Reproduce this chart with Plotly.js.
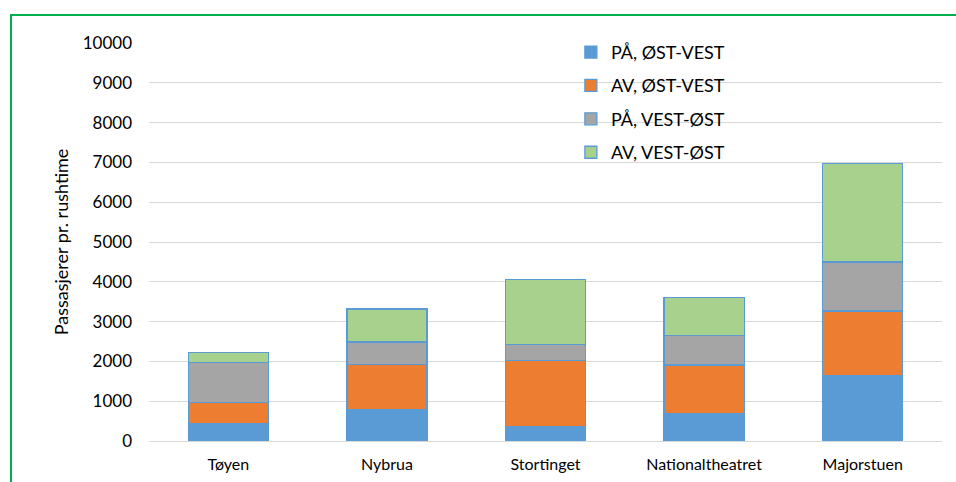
<!DOCTYPE html>
<html>
<head>
<meta charset="utf-8">
<script src="https://cdn.plot.ly/plotly-3.0.1.min.js"></script>
<style>
html,body{margin:0;padding:0;background:#fff;}
#chart{width:956px;height:482px;}
#frame{position:absolute;left:10px;top:14px;width:960px;height:500px;border-left:2px solid #00b050;border-top:2px solid #00b050;pointer-events:none;box-sizing:border-box;}
</style>
</head>
<body>
<div id="chart"></div>
<div id="frame"></div>
<script>
const categories = ["Tøyen", "Nybrua", "Stortinget", "Nationaltheatret", "Majorstuen"];
const seriesNames = ["PÅ, ØST-VEST", "AV, ØST-VEST", "PÅ, VEST-ØST", "AV, VEST-ØST"];
const paOstVest = [430, 780, 360, 680, 1640];
const avOstVest = [540, 1150, 1660, 1230, 1630];
const paVestOst = [1010, 560, 400, 740, 1230];
const avVestOst = [240, 830, 1630, 950, 2480];
const yTicks = [0, 1000, 2000, 3000, 4000, 5000, 6000, 7000, 8000, 9000, 10000];

const colors = ["#5B9BD5", "#ED7D31", "#A5A5A5", "#A9D18E"];
const values = [paOstVest, avOstVest, paVestOst, avVestOst];

const font = "Lato, sans-serif";

const traces = values.map((v, i) => ({
  type: "bar",
  x: categories,
  y: v,
  name: seriesNames[i],
  legendgroup: "g" + i,
  marker: {color: colors[i], line: {color: "#5B9BD5", width: 1.3}},
  hoverinfo: "x+y+name"
}));

const layout = {
  width: 956,
  height: 482,
  margin: {l: 149, r: 14, t: 43, b: 41},
  barmode: "stack",
  bargap: 0.495,
  paper_bgcolor: "#fff",
  plot_bgcolor: "#fff",
  font: {family: font, size: 17, color: "#000"},
  showlegend: true,
  legend: {
    x: 0.532, y: 1.023, xanchor: "left", yanchor: "top",
    traceorder: "grouped",
    tracegroupgap: 7,
    font: {family: font, size: 18, color: "#000"},
    bgcolor: "rgba(0,0,0,0)",
    itemwidth: 30
  },
  xaxis: {
    type: "category",
    tickfont: {family: font, size: 16, color: "#000"},
    showline: false,
    ticks: "",
    ticklabelstandoff: 12,
    showgrid: false
  },
  yaxis: {
    range: [0, 10000],
    tickvals: yTicks,
    ticktext: yTicks.map(String),
    tickfont: {family: font, size: 17, color: "#000"},
    showgrid: true,
    gridcolor: "#D9D9D9",
    gridwidth: 1,
    zeroline: true,
    zerolinecolor: "#D9D9D9",
    zerolinewidth: 1,
    showline: false,
    ticks: "",
    ticklabelstandoff: 16,
    automargin: false,
    title: {text: "Passasjerer pr. rushtime", font: {family: font, size: 18, color: "#000"}, standoff: 9}
  }
};

Plotly.newPlot("chart", traces, layout, {displayModeBar: false, staticPlot: true});
</script>
</body>
</html>
